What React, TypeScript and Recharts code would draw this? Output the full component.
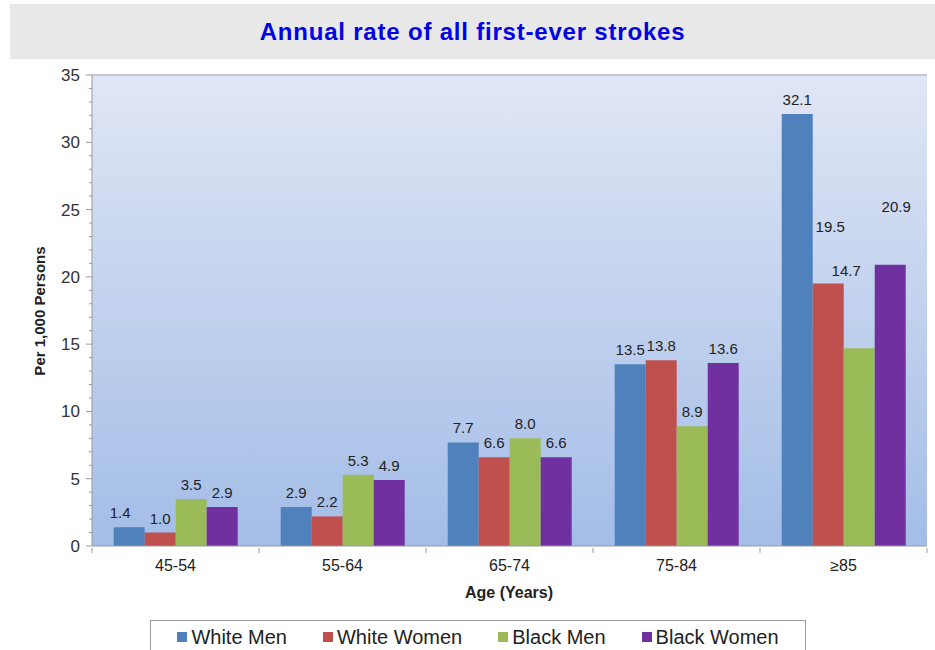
import {
  BarChart,
  Bar,
  XAxis,
  YAxis,
  CartesianGrid,
  LabelList,
  ReferenceLine,
} from "recharts";

const categories = ["45-54", "55-64", "65-74", "75-84", "≥85"];
const whiteMen = [1.4, 2.9, 7.7, 13.5, 32.1];
const whiteWomen = [1.0, 2.2, 6.6, 13.8, 19.5];
const blackMen = [3.5, 5.3, 8.0, 8.9, 14.7];
const blackWomen = [2.9, 4.9, 6.6, 13.6, 20.9];
const yTicks = Array.from({ length: 36 }, (_, i) => i); // minor ticks every 1, labels every 5

const series = [
  { key: "whiteMen", name: "White Men", color: "#4f81bd", values: whiteMen },
  { key: "whiteWomen", name: "White Women", color: "#c0504d", values: whiteWomen },
  { key: "blackMen", name: "Black Men", color: "#9bbb59", values: blackMen },
  { key: "blackWomen", name: "Black Women", color: "#7030a0", values: blackWomen },
];

// label nudges where the original moved labels off the bar top
const labelShift: Record<string, Record<number, [number, number]>> = {
  whiteMen: { 0: [-9, 0] },
  whiteWomen: { 4: [2, -43] },
  blackMen: { 4: [-13, -63] },
  blackWomen: { 4: [6, -44] },
};

const W = 935;
const H = 650;
const margin = { top: 75, right: 8, bottom: 74, left: 0 };
const Y_AXIS_W = 92;
const bandWidth = (W - margin.left - margin.right - Y_AXIS_W) / categories.length;
const FONT = "'Liberation Sans', Arial, sans-serif";

const data = categories.map((c, i) => ({
  age: c,
  whiteMen: whiteMen[i],
  whiteWomen: whiteWomen[i],
  blackMen: blackMen[i],
  blackWomen: blackWomen[i],
}));

function YTick(props: any) {
  const { x, y, payload } = props;
  const major = payload.value % 5 === 0;
  return (
    <g>
      <line x1={x - (major ? 6 : 3)} x2={x} y1={y} y2={y} stroke="#999" />
      {major && (
        <text x={x - 12} y={y} dy={6} textAnchor="end" fontSize={17} fill="#333" fontFamily={FONT}>
          {payload.value}
        </text>
      )}
    </g>
  );
}

function XTick(props: any) {
  const { x, y, payload, index } = props;
  const half = bandWidth / 2;
  return (
    <g>
      {index === 0 && <line x1={x - half} x2={x - half} y1={y} y2={y + 5} stroke="#999" />}
      <line x1={x + half} x2={x + half} y1={y} y2={y + 5} stroke="#999" />
      <text x={x} y={y + 23} textAnchor="middle" fontSize={16} fill="#222" fontFamily={FONT}>
        {payload.value}
      </text>
    </g>
  );
}

const makeLabel = (key: string) => (props: any) => {
  const { x, y, width, value, index } = props;
  const s = labelShift[key]?.[index] ?? [0, 0];
  return (
    <text
      x={x + width / 2 + s[0]}
      y={y - 9 + s[1]}
      textAnchor="middle"
      fontSize={15}
      fill="#222"
      fontFamily={FONT}
    >
      {Number(value).toFixed(1)}
    </text>
  );
};

export default function App() {
  return (
    <div style={{ position: "absolute", left: 0, top: 0, width: W, height: H, background: "#fff", fontFamily: FONT }}>
      <div
        style={{
          position: "absolute",
          left: 10,
          top: 4,
          width: W - 10,
          height: 55,
          background: "#e8e8e8",
          display: "flex",
          alignItems: "center",
          justifyContent: "center",
          color: "#0000e6",
          fontWeight: "bold",
          fontSize: 24,
          letterSpacing: 0.8,
        }}
      >
        Annual rate of all first-ever strokes
      </div>

      <BarChart
        width={W}
        height={H}
        data={data}
        margin={margin}
        barCategoryGap="13%"
        barGap={0}
        style={{ position: "absolute", left: 0, top: 0 }}
      >
        <defs>
          <linearGradient id="plotBg" x1="0" y1="0" x2="0" y2="1">
            <stop offset="0%" stopColor="#e0e6f5" />
            <stop offset="100%" stopColor="#a3bde7" />
          </linearGradient>
        </defs>
        <CartesianGrid fill="url(#plotBg)" horizontal={false} vertical={false} />
        <ReferenceLine y={35} stroke="#c4c7d0" strokeWidth={2} />
        <XAxis
          dataKey="age"
          stroke="#999"
          tickLine={false}
          tickSize={0}
          tick={<XTick />}
          interval={0}
          height={30}
          label={{
            content: () => (
              <text x={509} y={598} textAnchor="middle" fontSize={16} fontWeight="bold" fill="#222" fontFamily={FONT}>
                Age (Years)
              </text>
            ),
          }}
        />
        <YAxis
          width={Y_AXIS_W}
          domain={[0, 35]}
          ticks={yTicks}
          interval={0}
          stroke="#999"
          tickLine={false}
          tickSize={0}
          tickMargin={0}
          tick={<YTick />}
          label={{
            content: () => (
              <text
                x={40}
                y={311}
                transform="rotate(-90, 40, 311)"
                textAnchor="middle"
                dy={5}
                fontSize={15}
                fontWeight="bold"
                fill="#222"
                fontFamily={FONT}
              >
                Per 1,000 Persons
              </text>
            ),
          }}
        />
        {series.map((s) => (
          <Bar key={s.key} dataKey={s.key} name={s.name} fill={s.color} isAnimationActive={false}>
            <LabelList dataKey={s.key} content={makeLabel(s.key)} />
          </Bar>
        ))}
      </BarChart>

      <div
        style={{
          position: "absolute",
          left: 150,
          top: 620,
          width: 656,
          height: 34,
          border: "1px solid #999",
          boxSizing: "border-box",
          display: "flex",
          alignItems: "center",
          justifyContent: "center",
          gap: 36,
          fontSize: 20,
          color: "#222",
          background: "#fff",
        }}
      >
        {series.map((s) => (
          <div key={s.key} style={{ display: "flex", alignItems: "center", gap: 4 }}>
            <span style={{ display: "inline-block", width: 10, height: 10, background: s.color }} />
            <span>{s.name}</span>
          </div>
        ))}
      </div>
    </div>
  );
}
